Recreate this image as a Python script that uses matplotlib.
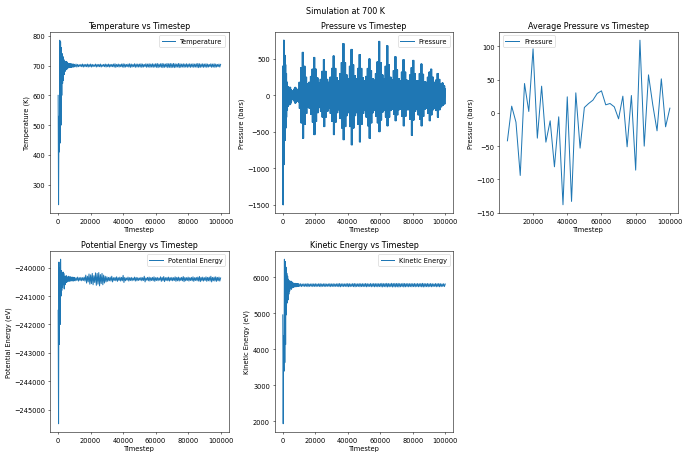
import numpy as np
import matplotlib
matplotlib.use("Agg")
import matplotlib.pyplot as plt

# thermo output: for the dense traces we keep the
# upper / lower extent of the signal, every 500 steps early on, then every 1000
early_steps = np.arange(0, 10000, 500)
late_steps = np.arange(10000, 100001, 1000)

temp_hi_early = [600, 530, 785, 780, 760, 740, 730, 720, 715, 712, 714, 712, 708, 707, 706, 706, 706, 705, 705, 705]
temp_lo_early = [233, 410, 440, 500, 600, 640, 650, 670, 680, 688, 686, 690, 692, 693, 694, 694, 694, 695, 695, 695]
temp_hi_late = [704, 705, 704, 703, 704, 705, 704, 704, 705, 704,
                705, 704, 703, 705, 704, 704, 705, 703, 704, 705,
                704, 705, 704, 704, 705, 706, 704, 705, 704, 705,
                706, 705, 704, 705, 706, 705, 704, 706, 705, 705,
                705, 706, 705, 704, 706, 705, 706, 705, 706, 705,
                706, 707, 705, 706, 707, 706, 705, 707, 706, 707,
                706, 707, 706, 705, 707, 706, 705, 706, 705, 706,
                705, 706, 705, 706, 705, 706, 707, 706, 705, 706,
                705, 706, 705, 704, 706, 705, 706, 705, 704, 705,
                704]
temp_lo_late = [696, 695, 696, 697, 696, 695, 696, 696, 695, 696,
                695, 696, 697, 695, 696, 696, 695, 697, 696, 695,
                696, 695, 696, 696, 695, 694, 696, 695, 696, 695,
                694, 695, 696, 695, 694, 695, 696, 694, 695, 695,
                695, 694, 695, 696, 694, 695, 694, 695, 694, 695,
                694, 693, 695, 694, 693, 694, 695, 693, 694, 693,
                694, 693, 694, 695, 693, 694, 695, 694, 695, 694,
                695, 694, 695, 694, 695, 694, 693, 694, 695, 694,
                695, 694, 695, 696, 694, 695, 694, 695, 696, 695,
                697]

press_hi_early = [400, 755, 550, 420, 300, 180, 120, 100, 110, 110, 80, 60, 50, 70, 90, 110, 100, 80, 70, 90]
press_lo_early = [-1500, -950, -620, -450, -300, -200, -150, -120, -130, -120, -90, -60, -50, -70, -90, -110, -100, -80, -70, -90]
press_hi_late = [180, 380, 590, 400, 250, 160, 180, 260, 360, 520,
                 360, 240, 170, 220, 330, 490, 330, 220, 180, 250,
                 370, 540, 370, 240, 200, 300, 450, 710, 450, 280,
                 230, 400, 630, 420, 270, 230, 370, 560, 370, 240,
                 200, 260, 370, 500, 340, 230, 210, 300, 460, 740,
                 450, 280, 230, 400, 680, 420, 250, 210, 340, 530,
                 350, 230, 200, 320, 490, 320, 210, 200, 280, 380,
                 480, 300, 200, 200, 300, 430, 290, 190, 180, 250,
                 320, 360, 250, 180, 210, 300, 220, 160, 170, 130,
                 90]
press_lo_late = [-180, -380, -590, -400, -250, -160, -180, -260, -370, -540,
                 -360, -240, -170, -220, -300, -430, -300, -220, -180, -250,
                 -360, -540, -370, -240, -200, -320, -450, -610, -430, -280,
                 -240, -430, -680, -450, -280, -240, -400, -640, -400, -250,
                 -210, -300, -420, -590, -380, -240, -210, -290, -380, -500,
                 -340, -230, -210, -300, -420, -300, -210, -190, -260, -350,
                 -270, -200, -190, -290, -420, -290, -200, -200, -330, -550,
                 -340, -220, -190, -270, -330, -420, -290, -190, -180, -250,
                 -350, -270, -200, -180, -210, -300, -200, -160, -140, -120,
                 -80]

avg_steps = np.arange(5000, 100001, 2500)
avg_press = [-42, 10, -14, -94, 44, 2, 96, -38, 40, -44,
             -12, -81, -6, -138, 24, -133, 30, -53, 8, 14,
             19, 29, 33, 12, 14, 9, -9, 25, -51, 26,
             -86, 109, -50, 57, 12, -27, 51, -21, 7]

pe_hi_early = [-241500, -239800, -240000, -239700, -240100, -240200, -240150, -240200, -240300, -240300,
               -240280, -240320, -240330, -240300, -240330, -240320, -240330, -240340, -240330, -240340]
pe_lo_early = [-245500, -242700, -242000, -241000, -240800, -240700, -240600, -240750, -240600, -240500,
               -240520, -240480, -240470, -240480, -240460, -240470, -240460, -240460, -240470, -240460]
pe_hi_late = [-240340, -240350, -240330, -240350, -240340, -240350, -240330, -240260, -240300, -240220,
              -240250, -240200, -240280, -240180, -240200, -240170, -240240, -240200, -240260, -240300,
              -240320, -240340, -240330, -240300, -240350, -240340, -240320, -240350, -240330, -240340,
              -240270, -240340, -240360, -240330, -240350, -240340, -240360, -240330, -240340, -240350,
              -240360, -240340, -240350, -240300, -240360, -240340, -240330, -240350, -240340, -240320,
              -240350, -240340, -240360, -240320, -240340, -240310, -240350, -240340, -240330, -240350,
              -240340, -240350, -240320, -240340, -240330, -240350, -240340, -240310, -240340, -240350,
              -240330, -240350, -240340, -240320, -240350, -240340, -240330, -240310, -240340, -240330,
              -240350, -240320, -240340, -240330, -240300, -240340, -240330, -240320, -240340, -240330,
              -240360]
pe_lo_late = [-240460, -240450, -240470, -240450, -240460, -240450, -240470, -240540, -240500, -240580,
              -240560, -240600, -240520, -240620, -240580, -240640, -240560, -240600, -240540, -240500,
              -240480, -240460, -240470, -240500, -240450, -240460, -240480, -240450, -240470, -240460,
              -240520, -240460, -240440, -240470, -240450, -240460, -240440, -240470, -240460, -240450,
              -240440, -240460, -240450, -240500, -240440, -240460, -240470, -240450, -240460, -240480,
              -240450, -240460, -240440, -240480, -240460, -240490, -240450, -240460, -240470, -240450,
              -240460, -240450, -240480, -240460, -240470, -240450, -240460, -240490, -240460, -240450,
              -240470, -240450, -240460, -240480, -240450, -240460, -240470, -240490, -240460, -240470,
              -240450, -240480, -240460, -240470, -240500, -240460, -240470, -240480, -240460, -240470,
              -240420]

ke_hi_early = [4955, 4380, 6500, 6440, 6280, 6110, 6030, 5945, 5905, 5880, 5895, 5880, 5845, 5840, 5830, 5830, 5830, 5820, 5820, 5820]
ke_lo_early = [1932, 3390, 3630, 4130, 4955, 5285, 5370, 5530, 5615, 5680, 5665, 5700, 5715, 5720, 5735, 5735, 5735, 5745, 5745, 5745]
ke_hi_late = [5815, 5820, 5812, 5818, 5815, 5822, 5816, 5814, 5820, 5816,
              5820, 5814, 5818, 5822, 5815, 5818, 5820, 5813, 5817, 5821,
              5816, 5820, 5815, 5818, 5822, 5825, 5817, 5820, 5816, 5821,
              5824, 5820, 5816, 5822, 5826, 5820, 5817, 5824, 5820, 5821,
              5820, 5826, 5821, 5817, 5825, 5820, 5826, 5821, 5825, 5820,
              5825, 5830, 5822, 5826, 5830, 5825, 5822, 5831, 5826, 5829,
              5826, 5830, 5825, 5821, 5830, 5826, 5822, 5826, 5821, 5825,
              5821, 5826, 5820, 5825, 5821, 5826, 5830, 5825, 5821, 5826,
              5820, 5825, 5821, 5816, 5825, 5820, 5825, 5821, 5816, 5820,
              5812]
ke_lo_late = [5745, 5740, 5748, 5742, 5745, 5738, 5744, 5746, 5740, 5744,
              5740, 5746, 5742, 5738, 5745, 5742, 5740, 5747, 5743, 5739,
              5744, 5740, 5745, 5742, 5738, 5735, 5743, 5740, 5744, 5739,
              5736, 5740, 5744, 5738, 5734, 5740, 5743, 5736, 5740, 5739,
              5740, 5734, 5739, 5743, 5735, 5740, 5734, 5739, 5735, 5740,
              5735, 5730, 5738, 5734, 5730, 5735, 5738, 5729, 5734, 5731,
              5734, 5730, 5735, 5739, 5730, 5734, 5738, 5734, 5739, 5735,
              5739, 5734, 5740, 5735, 5739, 5734, 5730, 5735, 5739, 5734,
              5740, 5735, 5739, 5744, 5735, 5740, 5735, 5739, 5744, 5740,
              5750]


def zigzag(hi_early, lo_early, hi_late, lo_late, reps=1):
    # bounce between top and bottom of the band (reps times per sample)
    # so it reads as the dense trace of the original
    xs, ys = [], []
    for steps, hi, lo in [(early_steps, hi_early, lo_early), (late_steps, hi_late, lo_late)]:
        dt = (steps[1] - steps[0]) / (2 * reps)
        offs = np.arange(2 * reps) * dt
        xs.append((steps[:, None] + offs[None, :]).ravel())
        ys.append(np.tile(np.column_stack([hi, lo]), reps).ravel())
    n_tail = 2 * reps - 1
    return np.concatenate(xs)[:-n_tail], np.concatenate(ys)[:-n_tail]


fig, axes = plt.subplots(2, 3, figsize=(14.375, 9.5833), dpi=48)
fig.subplots_adjust(left=0.0725, right=0.9826, top=0.9283, bottom=0.0587,
                    wspace=0.257, hspace=0.21)
fig.suptitle("Simulation at 700 K", y=0.985)

ax = axes[0, 0]
x, y = zigzag(temp_hi_early, temp_lo_early, temp_hi_late, temp_lo_late)
ax.plot(x, y, label="Temperature")
ax.set_title("Temperature vs Timestep")
ax.set_xlabel("Timestep")
ax.set_ylabel("Temperature (K)")
ax.legend()

ax = axes[0, 1]
x, y = zigzag(press_hi_early, press_lo_early, press_hi_late, press_lo_late, reps=3)
ax.plot(x, y, label="Pressure")
ax.set_title("Pressure vs Timestep")
ax.set_xlabel("Timestep")
ax.set_ylabel("Pressure (bars)")
ax.legend()

ax = axes[0, 2]
ax.plot(avg_steps, avg_press, label="Pressure")
ax.set_title("Average Pressure vs Timestep")
ax.set_xlabel("Timestep")
ax.set_ylabel("Pressure (bars)")
ax.legend()

ax = axes[1, 0]
x, y = zigzag(pe_hi_early, pe_lo_early, pe_hi_late, pe_lo_late)
ax.plot(x, y, label="Potential Energy")
ax.set_title("Potential Energy vs Timestep")
ax.set_xlabel("Timestep")
ax.set_ylabel("Potential Energy (eV)")
ax.legend()

ax = axes[1, 1]
x, y = zigzag(ke_hi_early, ke_lo_early, ke_hi_late, ke_lo_late)
ax.plot(x, y, label="Kinetic Energy")
ax.set_title("Kinetic Energy vs Timestep")
ax.set_xlabel("Timestep")
ax.set_ylabel("Kinetic Energy (eV)")
ax.legend()

fig.delaxes(axes[1, 2])
fig.savefig("out.png", dpi=48)
